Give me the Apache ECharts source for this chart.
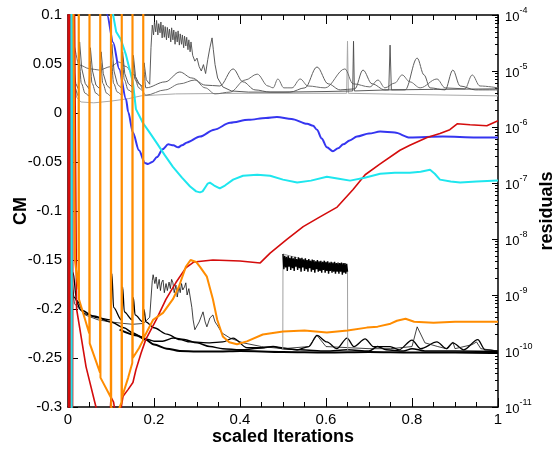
<!DOCTYPE html>
<html><head><meta charset="utf-8">
<script src="https://cdn.jsdelivr.net/npm/echarts@6/dist/echarts.min.js"></script>
<style>html,body{margin:0;padding:0;background:#fff}#c{width:557px;height:455px}</style>
</head><body><div id="c"></div>
<script>
// ---------- CM histories (left axis) ----------
const cmBlue = [[0.085,0.14],[0.091,0.1],[0.105,0.072],[0.119,0.045],[0.135,0.014],[0.14,0.001],[0.151,-0.02],[0.165,-0.038],[0.179,-0.051],[0.186,-0.052],[0.196,-0.05],[0.207,-0.045],[0.22,-0.037],[0.233,-0.032],[0.245,-0.033],[0.256,-0.035],[0.265,-0.033],[0.277,-0.03],[0.307,-0.024],[0.34,-0.017],[0.377,-0.01],[0.42,-0.007],[0.46,-0.005],[0.486,-0.004],[0.52,-0.006],[0.556,-0.011],[0.57,-0.013],[0.579,-0.017],[0.59,-0.026],[0.602,-0.035],[0.616,-0.039],[0.628,-0.036],[0.64,-0.032],[0.655,-0.028],[0.672,-0.024],[0.7,-0.021],[0.726,-0.019],[0.76,-0.02],[0.795,-0.025],[0.872,-0.024],[0.95,-0.025],[1.0,-0.025]];
const cmCyan = [[0.0075,0.3],[0.0085,-0.32],[0.0095,0.3],[0.1,0.3],[0.105,0.1],[0.112,0.083],[0.123,0.075],[0.135,0.059],[0.151,0.031],[0.158,0.004],[0.174,-0.01],[0.19,-0.02],[0.207,-0.031],[0.225,-0.043],[0.244,-0.055],[0.265,-0.066],[0.284,-0.075],[0.298,-0.08],[0.307,-0.081],[0.313,-0.08],[0.319,-0.076],[0.325,-0.072],[0.33,-0.071],[0.34,-0.074],[0.353,-0.077],[0.365,-0.074],[0.384,-0.068],[0.407,-0.064],[0.44,-0.063],[0.47,-0.064],[0.5,-0.068],[0.533,-0.071],[0.565,-0.069],[0.602,-0.065],[0.63,-0.067],[0.656,-0.069],[0.69,-0.066],[0.726,-0.062],[0.76,-0.061],[0.795,-0.061],[0.82,-0.06],[0.842,-0.058],[0.853,-0.062],[0.865,-0.068],[0.89,-0.07],[0.912,-0.071],[0.95,-0.07],[1.0,-0.069]];
const cmRed = [[0.0,0.3],[0.0015,-0.35],[0.003,0.3],[0.0045,-0.35],[0.006,0.3],[0.0075,-0.35],[0.009,0.3],[0.0105,-0.35],[0.012,0.3],[0.02,-0.2],[0.042,-0.259],[0.065,-0.3],[0.08,-0.33],[0.095,-0.33],[0.1,-0.29],[0.106,-0.295],[0.115,-0.32],[0.122,-0.305],[0.128,-0.289],[0.14,-0.282],[0.151,-0.275],[0.158,-0.262],[0.17,-0.245],[0.181,-0.231],[0.205,-0.211],[0.228,-0.19],[0.251,-0.173],[0.274,-0.158],[0.293,-0.152],[0.337,-0.15],[0.4,-0.151],[0.447,-0.153],[0.47,-0.143],[0.509,-0.129],[0.547,-0.116],[0.586,-0.106],[0.626,-0.096],[0.663,-0.078],[0.691,-0.063],[0.726,-0.052],[0.772,-0.038],[0.795,-0.033],[0.835,-0.025],[0.865,-0.021],[0.888,-0.017],[0.905,-0.011],[0.935,-0.012],[0.974,-0.013],[1.0,-0.008]];
const cmOrange = [[0.01,0.3],[0.016,-0.15],[0.0245,-0.18],[0.025,0.3],[0.0255,-0.19],[0.0495,-0.225],[0.05,0.3],[0.0505,-0.235],[0.0745,-0.265],[0.075,0.3],[0.0755,-0.27],[0.0995,-0.29],[0.1,0.3],[0.1005,-0.3],[0.112,-0.31],[0.1245,-0.295],[0.125,0.3],[0.1255,-0.29],[0.14,-0.27],[0.1495,-0.255],[0.15,0.3],[0.1505,-0.25],[0.165,-0.24],[0.1745,-0.232],[0.175,0.3],[0.1755,-0.23],[0.185,-0.222],[0.198,-0.211],[0.221,-0.204],[0.244,-0.19],[0.258,-0.177],[0.274,-0.157],[0.285,-0.15],[0.298,-0.152],[0.307,-0.157],[0.323,-0.167],[0.337,-0.19],[0.347,-0.211],[0.36,-0.228],[0.375,-0.234],[0.393,-0.236],[0.416,-0.233],[0.453,-0.226],[0.5,-0.223],[0.55,-0.222],[0.602,-0.224],[0.65,-0.222],[0.695,-0.219],[0.72,-0.218],[0.75,-0.215],[0.765,-0.212],[0.785,-0.21],[0.805,-0.213],[0.85,-0.214],[0.9,-0.213],[1.0,-0.213]];

// ---------- residual histories (right log axis) ----------
const resGrayA = [[0.004,1.2e-4],[0.01,2.0e-5],[0.018,6.0e-6],[0.024,4.8e-6],[0.027,3.3e-5],[0.032,1.1e-5],[0.04,6.0e-6],[0.049,4.8e-6],[0.052,2.6e-5],[0.057,1.0e-5],[0.065,5.6e-6],[0.074,4.8e-6],[0.077,2.2e-5],[0.082,9e-6],[0.09,5.6e-6],[0.099,4.8e-6],[0.102,3.0e-5],[0.107,1.0e-5],[0.115,5.8e-6],[0.124,5e-6],[0.127,2.2e-5],[0.132,9e-6],[0.14,6e-6],[0.149,5.2e-6],[0.152,1.9e-5],[0.157,8e-6],[0.165,6e-6],[0.174,5.2e-6],[0.177,1.4e-5],[0.182,7e-6],[0.19,5.8e-6],
 [0.193,2.6e-5],[0.196,6.6e-5],[0.199,4.4e-5],[0.201,7.5e-5],[0.204,5e-5],[0.206,8e-5],[0.209,4.4e-5],[0.211,7e-5],[0.214,4.8e-5],[0.216,7.5e-5],[0.219,3.9e-5],[0.221,6.6e-5],[0.224,4e-5],[0.226,6.2e-5],[0.229,3.6e-5],[0.231,6e-5],[0.234,3.9e-5],[0.236,5.6e-5],[0.239,3.3e-5],[0.241,5.9e-5],[0.244,3.6e-5],[0.246,5.4e-5],[0.249,3.0e-5],[0.251,5e-5],[0.254,3.3e-5],[0.256,5.2e-5],[0.259,2.9e-5],[0.261,4.6e-5],[0.264,3e-5],[0.266,4.4e-5],[0.269,2.6e-5],[0.271,4.2e-5],[0.274,2.8e-5],[0.276,4e-5],[0.279,2.4e-5],[0.281,3.6e-5],[0.284,2.2e-5],[0.286,3.3e-5],[0.29,1.9e-5],[0.295,1.5e-5],[0.3,1.7e-5],[0.305,1.2e-5],[0.31,1.0e-5],[0.315,1.3e-5],[0.32,9e-6],[0.325,1.6e-5],[0.33,2.6e-5],[0.335,3.9e-5],[0.338,2.4e-5],[0.342,1.3e-5],[0.348,7.5e-6],[0.36,5.2e-6],[0.38,4.4e-6],[0.42,4.2e-6],[0.5,4.2e-6],[0.6,4.3e-6],[0.662,4.4e-6],[0.664,3.4e-5],[0.666,4.4e-6],[0.746,4.6e-6],[0.749,2.9e-5],[0.752,4.6e-6],[0.85,4.7e-6],[1.0,4.8e-6]];
const resGrayB = [[0.003,1.2e-4],[0.008,3e-5],[0.016,5e-6],[0.024,3.6e-6],[0.026,1.6e-5],[0.031,6e-6],[0.04,4e-6],[0.049,3.6e-6],[0.051,1.5e-5],[0.056,6e-6],[0.065,4e-6],[0.074,3.6e-6],[0.076,1.4e-5],[0.081,6e-6],[0.09,4e-6],[0.099,3.6e-6],[0.101,1.6e-5],[0.106,6e-6],[0.115,4.2e-6],[0.124,3.8e-6],[0.126,1.9e-5],[0.131,7e-6],[0.14,4.6e-6],[0.149,4.2e-6],[0.151,1.5e-5],[0.156,7e-6],[0.165,5e-6],[0.174,4.4e-6],[0.176,1.1e-5],
 [0.181,5.0e-6],[0.226,6.4e-6],[0.26,9.6e-6],[0.288,7.5e-6],[0.319,5.6e-6],[0.353,5.4e-6],[0.384,1.09e-5],[0.407,6.4e-6],[0.435,4.6e-6],[0.47,4.2e-6],[0.516,4.2e-6],[0.551,5.0e-6],[0.579,1.18e-5],[0.605,5.9e-6],[0.633,4.6e-6],[0.667,4.8e-6],[0.686,1.04e-5],[0.707,5.9e-6],[0.737,4.6e-6],[0.784,4.6e-6],[0.812,1.7e-5],[0.828,8.5e-6],[0.842,5.0e-6],[0.877,4.6e-6],[0.895,1.04e-5],[0.912,5.4e-6],[0.947,4.6e-6],[1.0,4.6e-6]];
const resGrayC = [[0.004,1.2e-4],[0.012,3e-5],[0.026,1.28e-5],[0.05,1.1e-5],[0.072,1.04e-5],[0.1,1.2e-5],[0.118,1.45e-5],[0.135,1.2e-5],[0.15,9e-6],[0.165,5.9e-6],
 [0.181,3.7e-6],[0.226,4.6e-6],[0.26,5.9e-6],[0.295,6.9e-6],[0.319,5.0e-6],[0.342,3.9e-6],[0.377,4.2e-6],[0.412,6.9e-6],[0.44,8.8e-6],[0.465,5.4e-6],[0.477,5.0e-6],[0.488,7.2e-6],[0.502,5.0e-6],[0.521,5.0e-6],[0.54,7.2e-6],[0.558,5.4e-6],[0.598,5.0e-6],[0.644,1.09e-5],[0.663,5.9e-6],[0.702,5.2e-6],[0.721,6.9e-6],[0.737,5.0e-6],[0.76,6.1e-6],[0.777,8.5e-6],[0.795,6.4e-6],[0.819,5.0e-6],[0.858,7.2e-6],[0.877,5.0e-6],[0.923,4.8e-6],[0.94,8.5e-6],[0.958,5.4e-6],[1.0,5.0e-6]];
const resGrayD = [[0.005,1.2e-4],[0.012,1e-5],[0.02,3.4e-6],[0.03,2.8e-6],[0.06,2.7e-6],[0.1,2.9e-6],[0.14,3.2e-6],[0.17,3.6e-6],[0.25,3.9e-6],[0.4,4.0e-6],[0.648,4.0e-6],[0.65,3.4e-5],[0.652,4.0e-6],[0.8,3.8e-6],[1.0,3.6e-6]];
const resBlack1 = [[0.004,1.4e-8],[0.012,2.5e-9],[0.02,8e-10],[0.04,4.6e-10],[0.07,3.9e-10],[0.099,3.6e-10],[0.102,2.4e-9],[0.106,6e-10],[0.124,3.6e-10],[0.127,1.4e-9],[0.131,5e-10],[0.149,3.6e-10],[0.152,9e-10],[0.156,4.4e-10],[0.174,3.3e-10],[0.177,5.5e-10],[0.181,3.3e-10],[0.2,2.6e-10],[0.23,2.0e-10],[0.26,1.6e-10],[0.284,1.45e-10],[0.33,1.4e-10],[0.36,1.45e-10],[0.384,1.7e-10],[0.416,1.15e-10],[0.45,1.15e-10],[0.477,1.2e-10],[0.533,1.05e-10],[0.56,1.2e-10],[0.579,1.9e-10],[0.602,1.45e-10],[0.625,1.1e-10],[0.649,1.7e-10],[0.665,1.2e-10],[0.691,1.65e-10],[0.71,1.2e-10],[0.749,1.2e-10],[0.77,1.05e-10],[0.8,1.57e-10],[0.82,1.1e-10],[0.858,1.45e-10],[0.88,1.1e-10],[0.895,1.4e-10],[0.92,1.05e-10],[0.953,1.6e-10],[0.97,1.05e-10],[1.0,1.0e-10]];
const resBlack2 = [[0.004,6e-9],[0.015,9e-10],[0.03,5.4e-10],[0.06,4.2e-10],[0.1,3.3e-10],[0.13,2.6e-10],[0.151,2.1e-10],[0.17,1.8e-10],[0.186,1.6e-10],[0.2,1.5e-10],[0.22,1.5e-10],[0.245,1.7e-10],[0.27,1.6e-10],[0.3,1.4e-10],[0.33,1.2e-10],[0.36,1.1e-10],[0.4,1.05e-10],[0.45,1.13e-10],[0.477,1.2e-10],[0.5,1.1e-10],[0.54,1.05e-10],[0.6,1.0e-10],[0.65,1.05e-10],[0.7,1.0e-10],[0.72,1.2e-10],[0.74,1.05e-10],[0.78,1.0e-10],[0.8,1.1e-10],[0.83,1.0e-10],[0.9,1.0e-10],[1.0,9.8e-11]];
const resBlack3 = [[0.12,2.4e-10],[0.16,1.9e-10],[0.18,1.6e-10],[0.2,1.3e-10],[0.23,1.1e-10],[0.26,1.0e-10],[0.3,9.8e-11],[0.35,9.8e-11],[0.4,1.0e-10],[0.5,9.6e-11],[0.6,9.4e-11],[0.7,9.6e-11],[0.8,9.4e-11],[0.9,9.4e-11],[1.0,9.2e-11]];
const resBlackThin = [[0.004,3e-9],[0.015,7e-10],[0.04,4.4e-10],[0.07,3.6e-10],[0.1,3.3e-10],[0.13,3.1e-10],[0.15,3.0e-10],[0.175,3.1e-10],[0.19,4e-10],[0.196,1.8e-9],[0.198,2.3e-9],[0.202,1.6e-9],[0.205,2.1e-9],[0.208,1.3e-9],[0.212,1.9e-9],[0.215,1.2e-9],[0.218,1.7e-9],[0.221,1.85e-9],[0.224,1.1e-9],[0.228,1.6e-9],[0.231,1.2e-9],[0.235,1.7e-9],[0.238,1.3e-9],[0.241,1.9e-9],[0.244,1.65e-9],[0.247,1.1e-9],[0.251,1.5e-9],[0.254,9.2e-10],[0.258,1.4e-9],[0.261,1.1e-9],[0.264,1.6e-9],[0.267,1.23e-9],[0.271,1.4e-9],[0.274,1.65e-9],[0.277,1.0e-9],[0.281,1.3e-9],[0.284,1.23e-9],[0.288,6e-10],[0.291,3.6e-10],[0.295,2.4e-10],[0.305,3.3e-10],[0.314,5e-10],[0.319,3.3e-10],[0.323,2.7e-10],[0.33,3.9e-10],[0.337,4.4e-10],[0.342,3.3e-10],[0.347,2.9e-10],[0.358,2.1e-10],[0.377,1.7e-10],[0.407,1.4e-10],[0.45,1.2e-10],[0.5,1.1e-10],[0.56,1.2e-10],[0.579,1.9e-10],[0.6,1.2e-10],[0.7,1.1e-10],[0.75,1.1e-10],[0.8,1.2e-10],[0.812,2.7e-10],[0.83,1.4e-10],[0.86,1.2e-10],[0.88,1.1e-10],[0.895,1.45e-10],[0.9,1.1e-10],[0.94,1.3e-10],[0.95,1.45e-10],[0.96,1.1e-10],[1.0,1.0e-10]];
const resJumpGray = [[0.4995,1.04e-10],[0.5,5.4e-9],[0.65,2.6e-9],[0.6505,1.04e-10]];
const resNoiseBlock = [[0.500,5.4e-9],[0.502,2.9e-9],[0.504,5.0e-9],[0.506,3.1e-9],[0.508,4.8e-9],[0.510,2.7e-9],[0.512,5.0e-9],[0.514,3.2e-9],[0.516,4.6e-9],[0.518,2.8e-9],[0.520,4.9e-9],[0.522,3.0e-9],[0.524,4.5e-9],[0.526,2.7e-9],[0.528,4.8e-9],[0.530,3.2e-9],[0.532,4.4e-9],[0.534,2.8e-9],[0.536,4.7e-9],[0.538,3.0e-9],[0.540,4.5e-9],[0.542,2.6e-9],[0.544,4.6e-9],[0.546,3.1e-9],[0.548,4.3e-9],[0.550,2.7e-9],[0.552,4.5e-9],[0.554,2.9e-9],[0.556,4.2e-9],[0.558,2.6e-9],[0.560,4.4e-9],[0.562,3.0e-9],[0.564,4.1e-9],[0.566,2.6e-9],[0.568,4.3e-9],[0.570,2.8e-9],[0.572,4.2e-9],[0.574,2.5e-9],[0.576,4.0e-9],[0.578,2.9e-9],[0.580,4.2e-9],[0.582,2.6e-9],[0.584,4.0e-9],[0.586,2.7e-9],[0.588,4.1e-9],[0.590,2.5e-9],[0.592,3.9e-9],[0.594,2.8e-9],[0.596,4.1e-9],[0.598,2.5e-9],[0.600,3.9e-9],[0.602,2.7e-9],[0.604,4.0e-9],[0.606,2.4e-9],[0.608,3.8e-9],[0.610,2.7e-9],[0.612,3.9e-9],[0.614,2.5e-9],[0.616,3.8e-9],[0.618,2.6e-9],[0.620,3.9e-9],[0.622,2.4e-9],[0.624,3.7e-9],[0.626,2.6e-9],[0.628,3.8e-9],[0.630,2.4e-9],[0.632,3.7e-9],[0.634,2.6e-9],[0.636,3.8e-9],[0.638,2.3e-9],[0.640,3.7e-9],[0.642,2.5e-9],[0.644,3.7e-9],[0.646,2.4e-9],[0.648,3.6e-9],[0.650,2.6e-9]];

// ---------- axes ----------
const xRange = [0, 1], xStep = 0.2;
const cmRange = [-0.3, 0.1], cmStep = 0.05;
const resExponents = [-11, -10, -9, -8, -7, -6, -5, -4];
const resMinorTicks = [];
for (let i = 0; i < resExponents.length - 1; i++) for (let m = 2; m <= 9; m++) resMinorTicks.push(m * Math.pow(10, resExponents[i]));

const FONT = 'Liberation Sans, Arial, sans-serif';
const chart = echarts.init(document.getElementById('c'), null, {renderer: 'canvas'});
function ln(data, color, width, yIdx, z, smooth) {
  const s = {type: 'line', data: data, xAxisIndex: 0, yAxisIndex: yIdx, symbol: 'none', showSymbol: false,
    lineStyle: {color: color, width: width}, z: z, clip: true, silent: true, animation: false};
  if (smooth) { s.smooth = smooth; s.smoothMonotone = 'x'; }
  return s;
}
const tickLine = {color: '#000', width: 1};
const nameStyle = {fontFamily: FONT, fontSize: 18, fontWeight: 'bold', color: '#000'};
chart.setOption({
  animation: false,
  grid: {left: 68, right: 59, top: 15, bottom: 48, containLabel: false, outerBoundsMode: 'none'},
  xAxis: [
    {type: 'value', min: xRange[0], max: xRange[1], interval: xStep, position: 'bottom',
     name: 'scaled Iterations', nameLocation: 'middle', nameGap: 21, nameMoveOverlap: false,
     nameTextStyle: nameStyle,
     axisLine: {show: true, onZero: false, lineStyle: {color: '#000', width: 1.5}},
     axisTick: {show: true, inside: true, length: 9, lineStyle: tickLine},
     minorTick: {show: true, splitNumber: 4, length: 5, lineStyle: tickLine},
     axisLabel: {fontFamily: FONT, fontSize: 15, color: '#000', margin: 5,
       formatter: v => (v === 0 || v === 1) ? String(v) : v.toFixed(1)},
     splitLine: {show: false}},
    {type: 'value', min: xRange[0], max: xRange[1], interval: xStep, position: 'top',
     axisLine: {show: true, onZero: false, lineStyle: {color: '#000', width: 1.5}},
     axisTick: {show: true, inside: true, length: 9, lineStyle: tickLine},
     minorTick: {show: true, splitNumber: 4, length: 5, lineStyle: tickLine},
     axisLabel: {show: false}, splitLine: {show: false}}
  ],
  yAxis: [
    {type: 'value', min: cmRange[0], max: cmRange[1], interval: cmStep, position: 'left',
     name: 'CM', nameLocation: 'middle', nameGap: 38, nameRotate: 90, nameMoveOverlap: false,
     nameTextStyle: nameStyle,
     axisLine: {show: true, onZero: false, lineStyle: {color: '#000', width: 1.5}},
     axisTick: {show: true, inside: true, length: 10, lineStyle: tickLine},
     minorTick: {show: true, splitNumber: 5, length: 4, lineStyle: tickLine},
     axisLabel: {fontFamily: FONT, fontSize: 15, color: '#000', margin: 6,
       formatter: v => String(parseFloat(v.toFixed(2)))},
     splitLine: {show: false}},
    {type: 'log', logBase: 10, min: 1e-11, max: 1e-4, position: 'right', splitNumber: 7,
     name: 'residuals', nameLocation: 'middle', nameGap: 40, nameRotate: 90, nameMoveOverlap: false,
     nameTextStyle: nameStyle,
     axisLine: {show: true, onZero: false, lineStyle: {color: '#000', width: 1.5}},
     axisTick: {show: true, inside: true, length: 6, lineStyle: tickLine},
     axisLabel: {margin: 7, formatter: v => '{b|10}{s|' + Math.round(Math.log10(v)) + '}',
       rich: {b: {fontFamily: FONT, fontSize: 13, color: '#000', lineHeight: 17, verticalAlign: 'bottom'},
              s: {fontFamily: FONT, fontSize: 9, color: '#000', lineHeight: 17, verticalAlign: 'top'}}},
     splitLine: {show: false}},
    {type: 'log', logBase: 10, min: 1e-11, max: 1e-4, position: 'right',
     axisLine: {show: false, onZero: false}, axisLabel: {show: false}, splitLine: {show: false},
     axisTick: {show: true, inside: true, length: 3, customValues: resMinorTicks, lineStyle: tickLine}}
  ],
  series: [
    ln(resGrayD, '#a8a8a8', 1, 1, 2),
    ln(resGrayC, '#6e6e6e', 1, 1, 2, 0.35),
    ln(resGrayB, '#5e5e5e', 1, 1, 2, 0.35),
    ln(resGrayA, '#4a4a4a', 0.9, 1, 2),
    ln(resBlack3, '#000', 2, 1, 3, 0.3),
    ln(resBlack2, '#000', 1.5, 1, 3, 0.3),
    ln(resBlack1, '#000', 1.3, 1, 3, 0.3),
    ln(resBlackThin, '#111', 0.8, 1, 3),
    ln(resJumpGray, '#a0a0a0', 1, 1, 3),
    ln(resNoiseBlock, '#000', 1.4, 1, 3),
    ln(cmBlue, '#3535f0', 2, 0, 5, 0.3),
    ln(cmRed, '#d40c0c', 1.6, 0, 5),
    ln(cmCyan, '#1ee6ee', 2, 0, 6),
    ln(cmOrange, '#ff8c00', 2, 0, 6)
  ]
});
</script></body></html>
